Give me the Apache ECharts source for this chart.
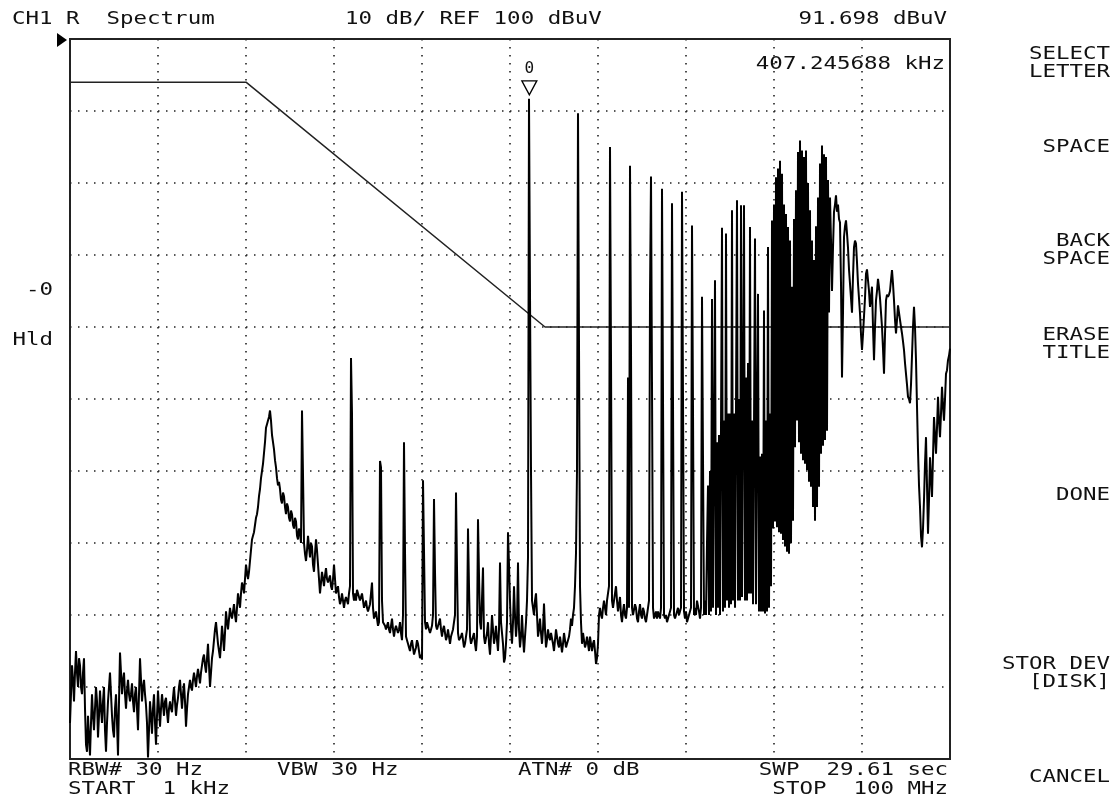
<!DOCTYPE html>
<html>
<head>
<meta charset="utf-8">
<script src="https://cdn.jsdelivr.net/npm/echarts@6/dist/echarts.min.js"></script>
<style>
  html, body { margin: 0; padding: 0; background: #fff; }
  #chart { width: 1117px; height: 808px; }
</style>
</head>
<body>
<div id="chart"></div>
<script>
// Sweep settings
const START_HZ = 1e3;
const STOP_HZ = 1e8;
const REF_LEVEL = 100;      // dBuV at top of screen
const DB_PER_DIV = 10;
const DIVISIONS = 10;

// Trace levels (dBuV), one per sweep point (881 points, log-spaced START..STOP)
const traceLevels = [
  5, 9, 13, 11, 8, 12, 15, 12, 10, 14, 13, 10, 9, 12, 14, 7, 2, 1, 6, 3,
  0.5, 5, 9, 6, 4, 7, 10, 8, 3, 6, 9.5, 7, 5, 8, 10, 4, 1, 5, 8, 10,
  12, 9, 6, 4, 3, 7, 9, 5, 0.5, 8, 14.8, 12, 9, 11, 12, 9, 7, 9.5, 11, 9,
  8, 9, 10.5, 8, 6.5, 9, 10, 7, 4, 9, 14, 11, 8, 10, 11, 9, 7.5, 5, 0.2, 4,
  8, 6, 3.5, 7, 9, 5, 2, 6, 9.5, 7, 4.5, 7, 9, 7.5, 6, 8, 8.5, 6.5, 5, 7,
  8, 7, 6.5, 8.5, 10, 8, 6, 7.5, 8.5, 10, 11, 9, 7, 9, 10.5, 8, 4.5, 7, 9, 10,
  11, 10, 9.5, 11, 12, 11, 10, 11.5, 12.5, 11.5, 10.5, 12, 13, 14, 14.5, 13, 12, 14, 16, 13,
  10, 12, 14, 15, 16.5, 18, 19, 17.5, 16, 15, 14, 16, 18.5, 17, 15, 17.5, 20.5, 19, 18, 19.5,
  21, 20, 19.5, 20.5, 21.5, 20, 19, 21, 23, 22, 21, 23, 24.5, 24, 23, 25, 27, 26, 25, 26,
  27.5, 29, 30.5, 31, 31.5, 32.5, 33.5, 34, 35, 36.5, 37.5, 39, 40, 41, 42.5, 44, 46, 46.5, 47, 47.5,
  48.4, 47, 45, 44, 43, 41.5, 40.5, 39, 38, 38.5, 37.5, 36, 35.5, 37, 36.5, 35, 34, 35.5, 35, 33.5,
  33, 34.5, 34, 32.5, 32, 33.5, 33, 31, 30.5, 32, 31.5, 30, 48.4, 39.5, 30, 28.5, 27.5, 29, 31, 29.5,
  28, 30, 29.5, 27, 26, 28.5, 30.5, 29, 27, 25, 23, 24.5, 26, 25, 24, 25.5, 26.5, 25, 24.5, 25,
  25.5, 24, 23.5, 25, 27, 25, 23, 23.5, 24, 22.5, 21.5, 22, 23, 22, 21, 22, 22.5, 22, 21.5, 23,
  24, 55.7, 48, 23, 22, 23, 22, 23.5, 23.5, 22.5, 22, 22.5, 23, 22, 21, 21.5, 22, 21, 20.5, 21,
  21.5, 23, 24.5, 21, 19.5, 20, 20.5, 19.5, 18.5, 19, 41.4, 40.5, 22, 19, 19, 18.5, 18, 18.5, 19, 18,
  17.5, 18.5, 19.5, 18, 17, 18, 18.5, 18, 17.5, 18, 19, 17.5, 16.5, 20, 44, 29, 17, 16.5, 16, 15.5,
  15, 16, 16.5, 15.5, 14.5, 15, 15.5, 16.5, 16, 15, 14, 14.5, 13.8, 38.7, 29, 19, 18, 19, 19, 18,
  17.5, 18, 18.5, 20, 36.1, 26, 18.5, 18, 18, 19, 19.5, 18, 17, 18, 18.5, 17.5, 16.5, 17, 18, 17,
  16, 17, 17.5, 18, 19, 20, 37, 26.5, 17.5, 16.5, 16.5, 17, 17.5, 16.5, 15.5, 16, 17, 18, 32, 24,
  17, 16, 16, 17, 17.5, 16, 15, 17, 33.3, 25.5, 19, 18, 18, 26.6, 17, 16, 16, 17.5, 19, 16,
  14.5, 17, 20, 18, 16, 17, 18.5, 16.5, 15, 18, 27.3, 19, 19, 16, 13.4, 14, 16, 19, 31.5, 27,
  22, 18, 16, 19, 24, 20, 17, 19, 27.3, 18, 15.5, 17, 20, 17, 14.8, 17, 19, 22, 28, 91.698,
  64.4, 40, 22, 21, 20, 22, 23, 20, 17, 18, 19.5, 17.5, 16, 18, 21.6, 18, 15.5, 16.5, 18, 17,
  16.5, 17.5, 17.5, 16, 15, 16.5, 18, 17, 16, 15.5, 17, 16, 14.8, 16, 17.5, 16.5, 15.5, 16, 16.5, 17,
  18, 19.5, 18.5, 20, 21, 24, 28.6, 40, 89.7, 57.4, 24, 19, 16, 17.5, 16.5, 15.5, 16, 17, 16, 15,
  17, 16, 15, 16, 16.5, 15, 13.2, 14, 16, 20, 21, 20, 19.5, 21, 22, 21, 20, 22, 23, 24,
  85, 55.8, 22, 21, 21, 23, 24, 22, 20.5, 21.5, 22.5, 20, 19, 20.5, 21.5, 20, 19.5, 21, 53, 21,
  82.4, 57, 21, 20, 20, 21.5, 21, 19.5, 19, 20.5, 21.5, 20, 19.5, 21, 20.5, 19.5, 19, 20, 21, 22,
  64.4, 80.9, 51.6, 21, 19.5, 20, 20.5, 19.5, 20.5, 20, 19.5, 21, 79.2, 50.3, 20, 19.5, 20, 19, 19, 20,
  20.5, 21, 77.2, 49.5, 20, 19.5, 19.5, 20.5, 21, 20, 19.8, 21, 78.8, 50, 20.5, 19.5, 20.5, 19, 19, 20,
  20, 21, 74.1, 48.5, 20, 21, 20, 22, 22, 20.5, 19.5, 21, 64.2, 41.7, 20, 22, 20, 30, 38, 20,
  40, 20.5, 63.9, 21, 43, 66.5, 20, 44, 21, 45, 20, 46, 73.8, 20.5, 47, 21, 73, 22, 48, 21,
  48, 21.5, 76.2, 22, 48, 21, 49, 77.6, 22, 50, 22, 76.9, 22.5, 50, 76.9, 22, 53, 22, 55, 23,
  73.9, 23, 47, 21.5, 46, 72.3, 21.5, 47, 64.6, 20.5, 42, 20.5, 42.4, 20.5, 62.3, 20.2, 47, 20.5, 71.1, 21,
  48, 24, 74.8, 32, 77, 33, 80.8, 32.2, 82, 31.5, 83.1, 31.3, 81.3, 30.4, 77, 29.5, 75.7, 28.8, 73.9, 28.5,
  72, 30, 65.6, 33.1, 75, 43.3, 79, 47, 84.3, 44, 85.9, 42.4, 84.5, 41.5, 83.6, 41, 84.5, 40.1, 80, 38.5,
  76.2, 37.8, 72, 35, 69.3, 33.1, 74, 35, 78, 37.8, 82.7, 42.4, 85.2, 43.5, 84, 44.3, 83.6, 45.6, 80.4, 62,
  78, 72, 65, 71, 76, 77, 78.3, 76, 77, 75, 74.5, 66, 53, 62, 72.5, 74, 74.8, 73, 71, 68,
  66, 64, 62, 67, 71.1, 72, 71.6, 69, 66, 64, 61.9, 59, 56.8, 59, 61.5, 64, 67.4, 68, 67.9, 65,
  62.8, 64, 65.6, 60, 55.4, 60, 63.7, 65, 66.7, 65.5, 64, 62, 60, 57, 53.5, 59, 63.7, 64.5, 64.2, 64.5,
  65, 66.5, 67.9, 66, 63.7, 61, 59.1, 61, 63, 62, 61, 60, 59.1, 58, 56.8, 55, 53.5, 52, 50.3, 50,
  49.4, 52, 56, 60, 62.8, 60, 55.4, 49, 42.9, 38, 35, 31, 29.4, 32, 36, 41, 44.7, 38, 31.3, 36,
  41.9, 39, 36.4, 42, 47.5, 45, 42.4, 46, 50.3, 47, 44.7, 48, 51.7, 49, 47, 50, 53.5, 54, 55.4, 56,
  57
];

// Limit line corner points
const limitFreqs = [1e3, 1e4, 5e5, 1e8];
const limitLevels = [94, 94, 60, 60];

// Marker 0 readout
const markerFreq = 407245.688;   // Hz
const markerLevel = 91.698;      // dBuV
const markerName = '0';

// Screen annotations
const headerLeft = 'CH1 R  Spectrum';
const headerMid = '10 dB/ REF 100 dBuV';
const headerRight = markerLevel.toFixed(3) + ' dBuV';
const markerFreqText = (markerFreq / 1000).toFixed(6) + ' kHz';
const footerRows = [
  ['RBW# 30 Hz', 'VBW 30 Hz', 'ATN# 0 dB', 'SWP  29.61 sec'],
  ['START  1 kHz', 'STOP  100 MHz']
];
const sideLabels = ['-0', 'Hld'];
const softkeys = [
  ['SELECT', 'LETTER'],
  ['SPACE'],
  ['BACK', 'SPACE'],
  ['ERASE', 'TITLE'],
  ['DONE'],
  ['STOR DEV', '[DISK]'],
  ['CANCEL']
];

const sweepFreqs = traceLevels.map((_, i) =>
  START_HZ * Math.pow(STOP_HZ / START_HZ, i / (traceLevels.length - 1)));
const traceData = traceLevels.map((v, i) => [sweepFreqs[i], v]);
const limitData = limitFreqs.map((f, i) => [f, limitLevels[i]]);

const FONT = '17px "DejaVu Sans Mono", "Liberation Mono", monospace';
const SX = 1.32;   // widen glyphs to the instrument's character cell
const INK = '#111';

function txt(str, x, y, align) {
  return {
    type: 'text', x: x, y: y, scaleX: SX, silent: true,
    style: {
      text: str, font: FONT, fill: INK,
      textAlign: align || 'left', align: align || 'left',
      textVerticalAlign: 'middle', verticalAlign: 'middle'
    }
  };
}

const graphics = [
  txt(headerLeft, 12, 20),
  txt(headerMid, 345, 20),
  txt(headerRight, 947, 20, 'right'),
  txt(markerFreqText, 945, 65, 'right'),
  txt(sideLabels[0], 53, 291, 'right'),
  txt(sideLabels[1], 53, 341, 'right'),
  txt(footerRows[0][0], 68, 771),
  txt(footerRows[0][1], 277, 771),
  txt(footerRows[0][2], 518, 771),
  txt(footerRows[0][3], 948, 771, 'right'),
  txt(footerRows[1][0], 68, 790),
  txt(footerRows[1][1], 948, 790, 'right'),
  {
    type: 'polygon', silent: true,
    shape: { points: [[57, 33], [67, 40], [57, 47]] },
    style: { fill: '#000' }
  }
];

// Softkey labels down the right-hand side
const softkeyCenters = [64, 148, 251, 345, 496, 674, 778];
softkeys.forEach((lines, k) => {
  const c = softkeyCenters[k];
  const step = 18;
  const top = c - (lines.length - 1) * step / 2;
  lines.forEach((s, j) => graphics.push(txt(s, 1110, top + j * step, 'right')));
});

const dotted = { type: [1.5, 6.5], color: '#222', width: 1.6 };

const chart = echarts.init(document.getElementById('chart'), null, { renderer: 'canvas' });
chart.setOption({
  animation: false,
  backgroundColor: '#fff',
  grid: {
    left: 70, top: 39, width: 880, height: 720,
    show: true, borderColor: '#222', borderWidth: 2, backgroundColor: 'transparent'
  },
  xAxis: [
    {
      type: 'log', logBase: 10, min: START_HZ, max: STOP_HZ,
      axisLine: { show: false }, axisTick: { show: false },
      axisLabel: { show: false }, splitLine: { show: false }
    },
    {
      type: 'value', min: 0, max: DIVISIONS, interval: 1,
      axisLine: { show: false }, axisTick: { show: false },
      axisLabel: { show: false }, splitLine: { show: true, lineStyle: dotted }
    }
  ],
  yAxis: {
    type: 'value', min: REF_LEVEL - DB_PER_DIV * DIVISIONS, max: REF_LEVEL, interval: DB_PER_DIV,
    axisLine: { show: false }, axisTick: { show: false },
    axisLabel: { show: false }, splitLine: { show: true, lineStyle: dotted }
  },
  series: [
    {
      name: 'limit', type: 'line', xAxisIndex: 0, data: limitData,
      symbol: 'none', silent: true, z: 3,
      lineStyle: { color: '#222', width: 1.5 }
    },
    {
      name: 'trace', type: 'line', xAxisIndex: 0, data: traceData,
      symbol: 'none', silent: true, z: 4,
      lineStyle: { color: '#000', width: 2 },
      markPoint: {
        silent: true,
        symbol: 'path://M0,0L16,0L8,14Z',
        symbolSize: [15, 14],
        symbolOffset: [0, -11],
        itemStyle: { color: '#fff', borderColor: '#000', borderWidth: 1.3 },
        label: {
          show: true, position: 'top', distance: 3,
          formatter: markerName, color: INK,
          fontFamily: '"DejaVu Sans Mono", monospace', fontSize: 16
        },
        data: [{ coord: [markerFreq, markerLevel] }]
      }
    }
  ],
  graphic: graphics
});
</script>
</body>
</html>
